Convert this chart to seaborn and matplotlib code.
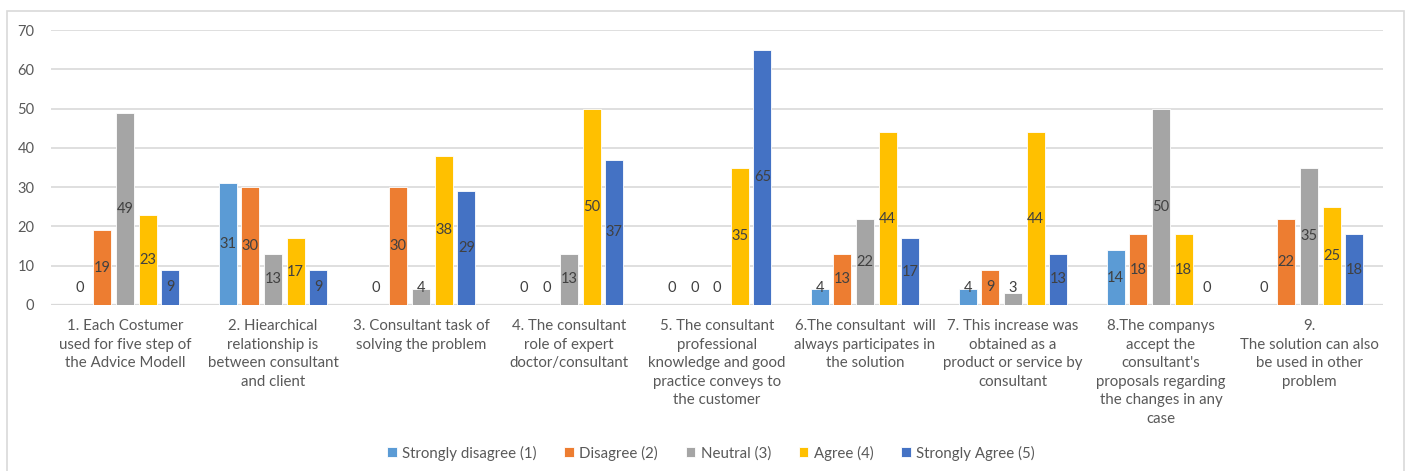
import numpy as np
import pandas as pd
import matplotlib
matplotlib.use("Agg")
import matplotlib.pyplot as plt
from matplotlib.patches import Rectangle
import seaborn as sns

# Survey statements (category axis)
statements = [
    "1. Each Costumer\nused for five step of\nthe Advice Modell",
    "2. Hiearchical\nrelationship is\nbetween consultant\nand client",
    "3. Consultant task of\nsolving the problem",
    "4. The consultant\nrole of expert\ndoctor/consultant",
    "5. The consultant\nprofessional\nknowledge and good\npractice conveys to\nthe customer",
    "6.The consultant  will\nalways participates in\nthe solution",
    "7. This increase was\nobtained as a\nproduct or service by\nconsultant",
    "8.The companys\naccept the\nconsultant's\nproposals regarding\nthe changes in any\ncase",
    "9.\nThe solution can also\nbe used in other\nproblem",
]

# Response counts per answer level
strongly_disagree = [0, 31, 0, 0, 0, 4, 4, 14, 0]
disagree          = [19, 30, 30, 0, 0, 13, 9, 18, 22]
neutral           = [49, 13, 4, 13, 0, 22, 3, 50, 35]
agree             = [23, 17, 38, 50, 35, 44, 44, 18, 25]
strongly_agree    = [9, 9, 29, 37, 65, 17, 13, 0, 18]

levels = ["Strongly disagree (1)", "Disagree (2)", "Neutral (3)",
          "Agree (4)", "Strongly Agree (5)"]
colors = ["#5B9BD5", "#ED7D31", "#A5A5A5", "#FFC000", "#4472C4"]

series = [strongly_disagree, disagree, neutral, agree, strongly_agree]
df = pd.DataFrame({
    "statement": statements * len(levels),
    "level": np.repeat(levels, len(statements)),
    "count": np.concatenate(series),
})

sns.set_theme(style="white")
plt.rcParams["font.family"] = ["Lato", "DejaVu Sans"]

W, H = 1409, 471
fig = plt.figure(figsize=(W / 100, H / 100), dpi=100)
ax = fig.add_axes([51 / W, 1 - 305 / H, (1383 - 51) / W, (305 - 30) / H])

sns.barplot(data=df, x="statement", y="count", hue="level",
            order=statements, hue_order=levels, palette=colors,
            width=0.767, gap=0.2, saturation=1, ax=ax,
            edgecolor="white", linewidth=0.6, err_kws={"linewidth": 0})

ax.set_ylim(0, 70)
ax.set_yticks(range(0, 71, 10))
ax.set_xlim(-0.5, len(statements) - 0.5)
ax.yaxis.grid(True, color="#D9D9D9", linewidth=1.2)
ax.set_axisbelow(True)
for s in ax.spines.values():
    s.set_visible(False)
ax.axhline(0, color="#D9D9D9", linewidth=1.6, zorder=0.5)
ax.set_xlabel("")
ax.set_ylabel("")
ax.tick_params(axis="y", length=0, pad=12, labelsize=10.5, labelcolor="#595959")
ax.tick_params(axis="x", length=0, pad=10, labelsize=10.8, labelcolor="#595959")
for lab in ax.get_xticklabels():
    lab.set_verticalalignment("top")
    lab.set_linespacing(1.42)

# Value labels centred in each bar (kept clear of the baseline)
for cont, vals in zip(ax.containers, series):
    for bar, v in zip(cont, vals):
        xc = bar.get_x() + bar.get_width() / 2
        yc = max(v / 2, 4.3)
        ax.text(xc, yc, f"{v}", ha="center", va="center",
                fontsize=10.5, color="#404040")

leg = ax.legend(loc="center", bbox_to_anchor=(0.5045, 1 - 453 / H), bbox_transform=fig.transFigure,
                ncol=5, frameon=False, fontsize=10.8, handlelength=0.65,
                handleheight=0.65, handletextpad=0.35, columnspacing=1.85)
for t in leg.get_texts():
    t.set_color("#595959")

# Outer chart frame
fig.patches.append(Rectangle((7 / W, -0.02), (1404 - 7) / W, 1 - 11 / H + 0.02,
                             transform=fig.transFigure, fill=False,
                             edgecolor="#D9D9D9", linewidth=1.2))

fig.savefig("out.png", dpi=100)
